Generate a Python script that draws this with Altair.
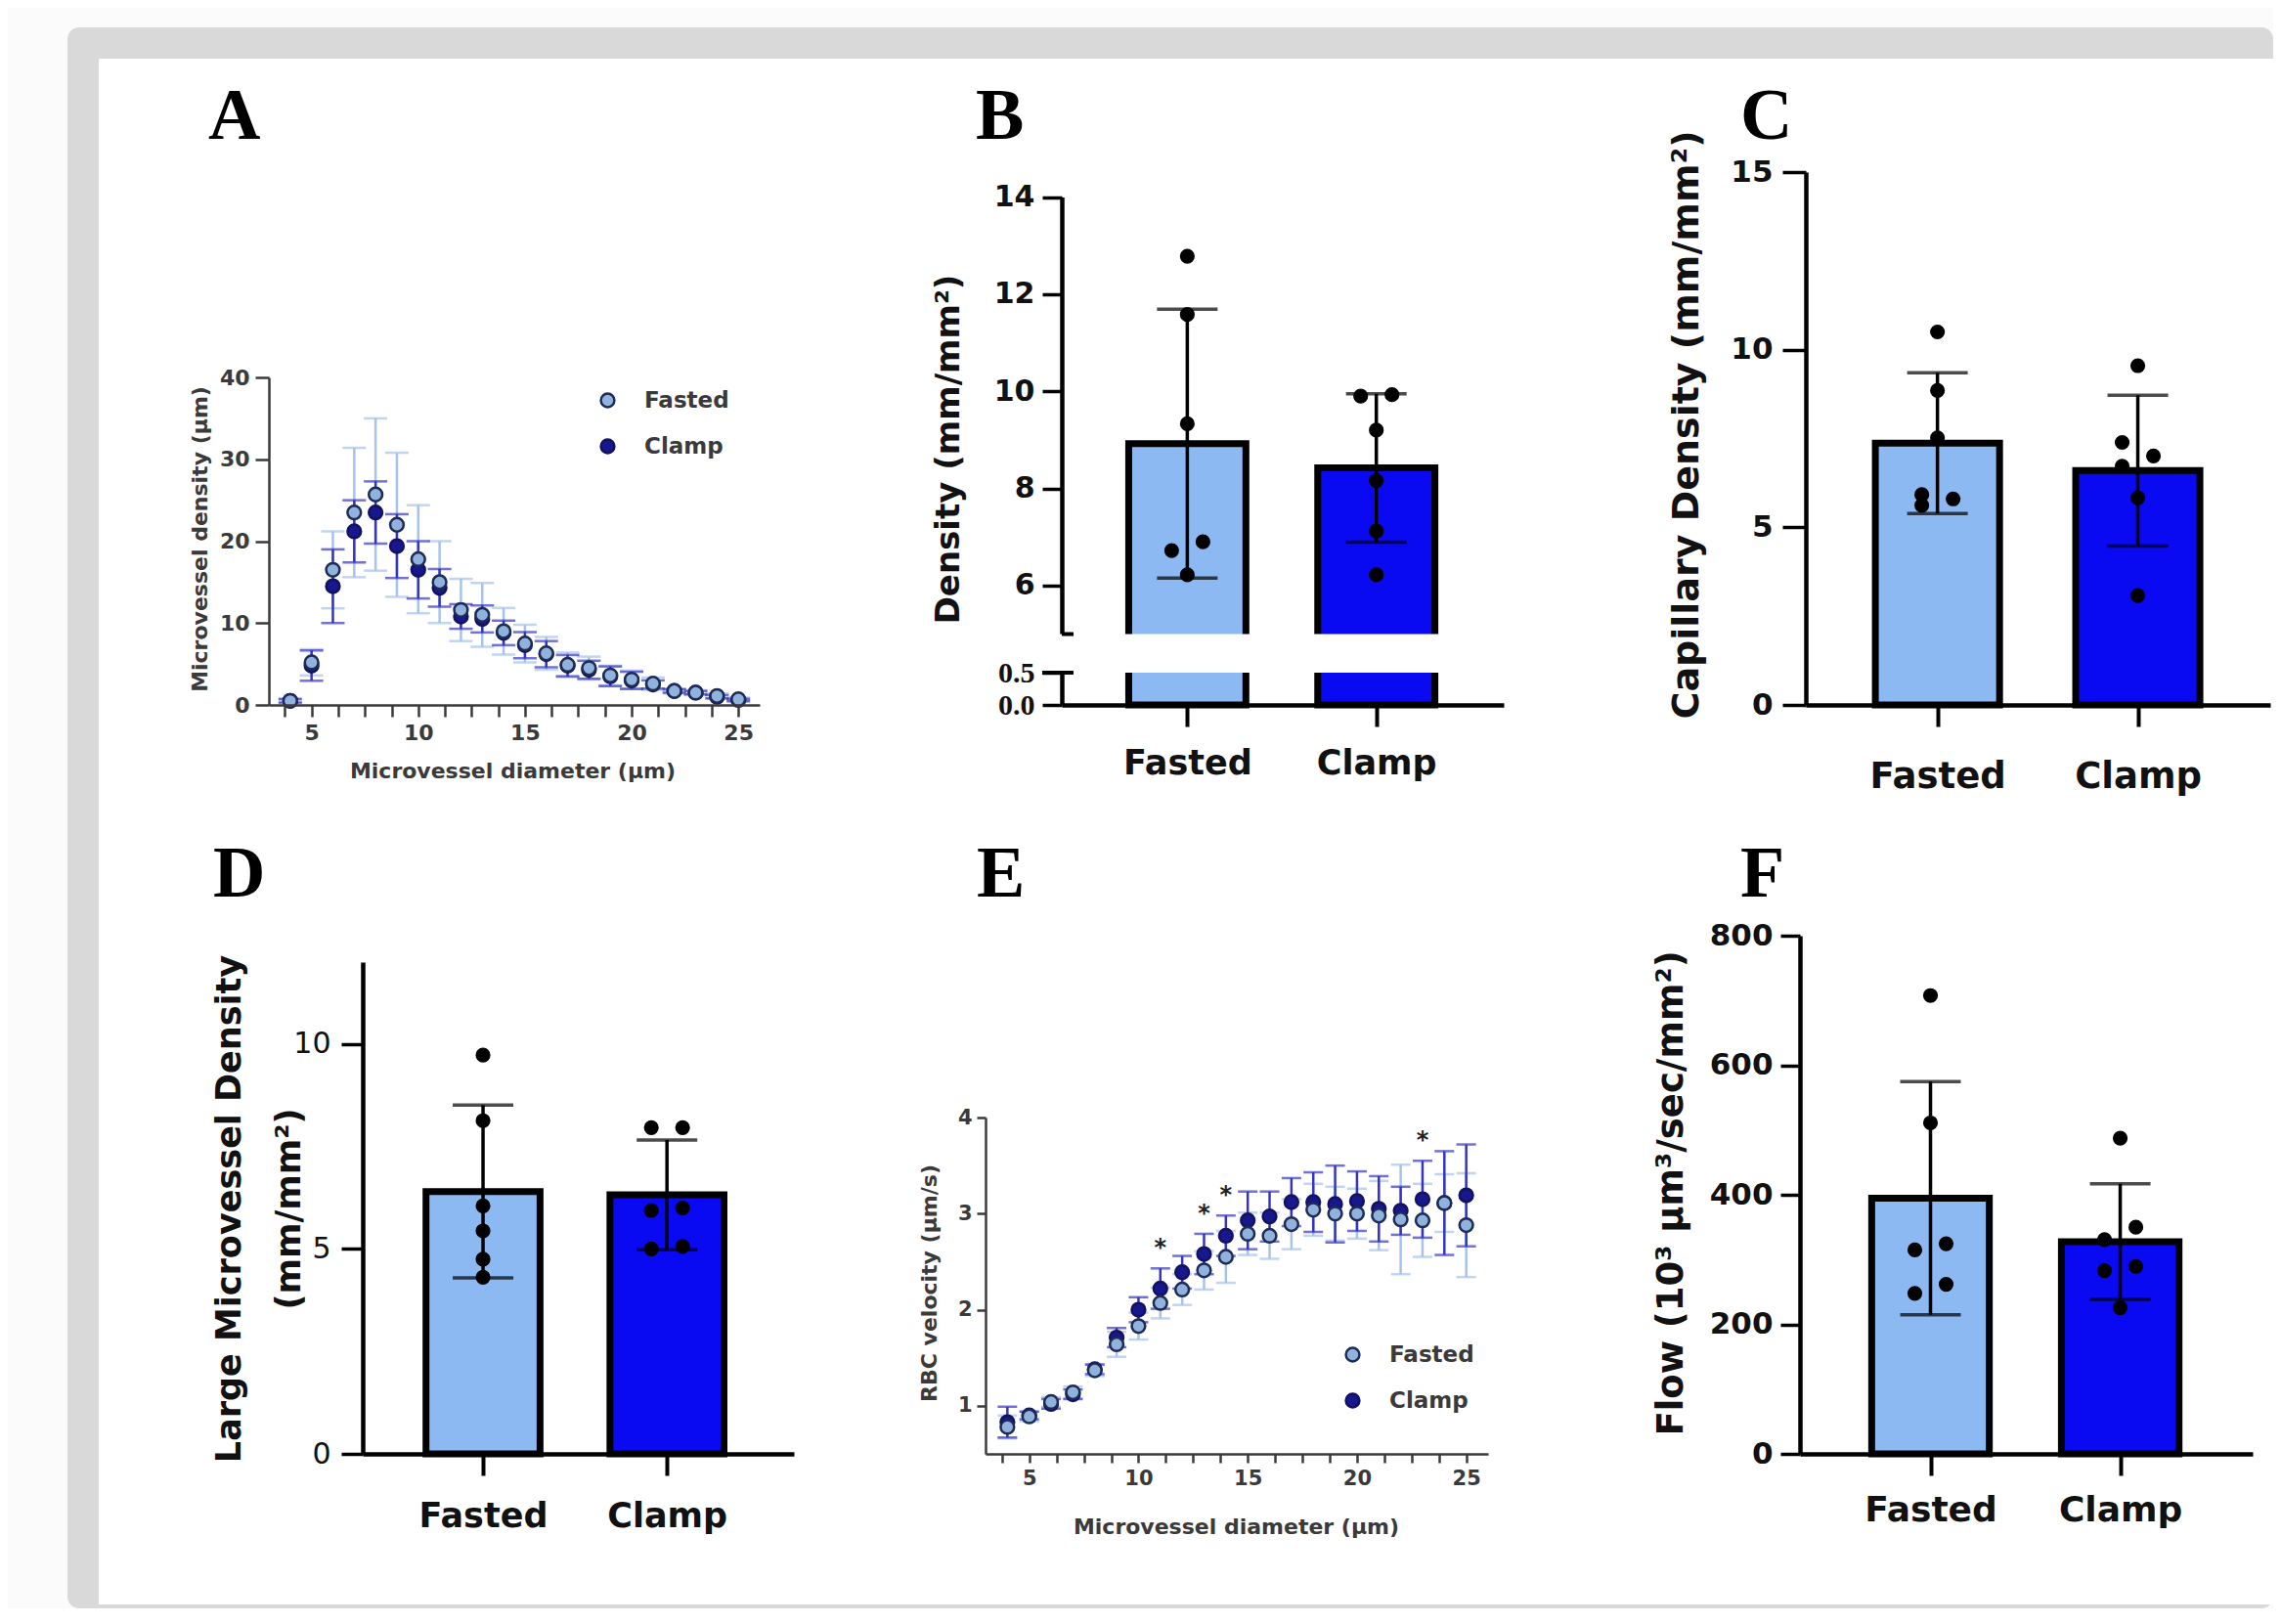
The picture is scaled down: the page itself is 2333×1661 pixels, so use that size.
import altair as alt
import pandas as pd

# ---------------- data ----------------
GROUPS = ["Fasted", "Clamp"]
DIAMETERS = list(range(4, 26))

# Panel A: microvessel density by diameter (mean, SD)
A_FASTED_MEAN = [0.5, 5.2, 16.5, 23.5, 25.7, 22.0, 17.8, 15.0, 11.6, 11.0, 9.0, 7.5, 6.3, 4.9, 4.5, 3.6, 3.1, 2.6, 1.7, 1.5, 1.1, 0.7]
A_FASTED_SD = [0.3, 1.6, 4.7, 7.9, 9.3, 8.8, 6.6, 5.0, 3.8, 3.9, 2.85, 2.3, 2.0, 1.5, 1.4, 1.2, 1.1, 0.75, 0.3, 0.3, 0.3, 0.2]
A_CLAMP_MEAN = [0.5, 4.8, 14.5, 21.2, 23.5, 19.4, 16.5, 14.3, 10.8, 10.5, 8.8, 7.3, 6.2, 4.8, 4.3, 3.5, 3.0, 2.5, 1.7, 1.5, 1.0, 0.6]
A_CLAMP_SD = [0.2, 1.85, 4.5, 3.8, 3.8, 3.9, 3.5, 2.3, 1.5, 1.65, 1.5, 1.6, 1.6, 1.3, 1.1, 1.2, 1.05, 0.5, 0.2, 0.2, 0.2, 0.15]

# Panel E: RBC velocity by diameter (mean, SD)
E_FASTED_MEAN = [0.78, 0.89, 1.04, 1.14, 1.37, 1.64, 1.83, 2.07, 2.21, 2.41, 2.55, 2.79, 2.77, 2.89, 3.04, 3.00, 3.00, 2.98, 2.94, 2.93, 3.11, 2.88]
E_FASTED_SD = [0.12, 0.05, 0.05, 0.06, 0.06, 0.13, 0.14, 0.16, 0.16, 0.20, 0.27, 0.22, 0.24, 0.26, 0.27, 0.28, 0.26, 0.36, 0.57, 0.38, 0.30, 0.54]
E_CLAMP_MEAN = [0.83, 0.90, 1.02, 1.12, 1.38, 1.71, 2.00, 2.22, 2.39, 2.58, 2.77, 2.93, 2.97, 3.12, 3.12, 3.10, 3.13, 3.05, 3.03, 3.15, 3.11, 3.19]
E_CLAMP_SD = [0.16, 0.04, 0.05, 0.05, 0.05, 0.10, 0.13, 0.21, 0.17, 0.21, 0.21, 0.30, 0.26, 0.25, 0.31, 0.40, 0.31, 0.34, 0.25, 0.40, 0.54, 0.53]
E_STARRED = [11, 13, 14, 23]

# Bar panels: individual animals
B_FASTED = [12.78, 11.58, 9.33, 6.90, 6.72, 6.22]
B_CLAMP = [9.90, 9.93, 9.20, 8.16, 7.12, 6.22]
C_FASTED = [10.50, 8.85, 7.52, 5.62, 5.92, 5.80]
C_CLAMP = [9.55, 7.39, 7.01, 6.72, 5.83, 3.08]
D_FASTED = [9.73, 8.13, 6.05, 5.44, 4.75, 4.31]
D_CLAMP = [7.96, 7.96, 5.94, 6.00, 5.00, 5.06]
F_FASTED = [707.6, 511.0, 314.9, 324.4, 247.8, 261.8]
F_CLAMP = [487.3, 350.0, 330.8, 289.4, 282.9, 225.5]

# ---------------- style ----------------
SANS = "DejaVu Sans"
SERIF = "Liberation Serif"
INK_S = "#3a3a3a"
INK_B = "#111111"
F_FILL, F_STROKE = "#8fb3dc", "#1e2b56"
C_FILL, C_STROKE = "#17178e", "#121260"
F_ERR, C_ERR = "#a7c2ec", "#3434c4"
BAR_F, BAR_C = "#8cb9f2", "#0a0af2"
X_TICKS = [3.75 + 1.25 * k for k in range(18)]


def one():
    return pd.DataFrame({"k": [0]})


def letter(ch, x, y):
    return alt.Chart(one()).mark_text(
        text=ch, font=SERIF, fontSize=74, fontWeight="bold",
        align="left", baseline="alphabetic", color="black",
    ).encode(x=alt.value(x), y=alt.value(y))


def swarm(values, ppy, ppx, diam_px=17.0, step_px=16.0):
    """Spread points that would overlap into alternating left/right columns."""
    order = sorted(range(len(values)), key=lambda i: values[i])
    offs = [0.0] * len(values)
    clusters, cur = [], [order[0]]
    for a, b in zip(order, order[1:]):
        if (values[b] - values[a]) * ppy < diam_px:
            cur.append(b)
        else:
            clusters.append(cur)
            cur = [b]
    clusters.append(cur)
    for cl in clusters:
        if len(cl) > 1:
            for k, i in enumerate(cl):
                offs[i] = (-step_px if k % 2 == 0 else step_px) / ppx
    return offs


def scatter_panel(f_mean, f_sd, c_mean, c_sd, *, view_w, view_h, x_px, y_domain, y_px, y_ticks,
                  y_title, y_title_xy, x_title_xy, legend_xy, ytick_len, xtick_len, label_size,
                  label_pad, cap_px, zindex, starred=None, pre=(), post=()):
    rows = []
    for g, means, sds in (("Clamp", c_mean, c_sd), ("Fasted", f_mean, f_sd)):
        for d, m, s in zip(DIAMETERS, means, sds):
            rows.append({"group": g, "d": d, "mean": m, "sd": s})
    df = pd.DataFrame(rows)
    common = dict(grid=False, domainColor=INK_S, domainWidth=2.5, tickColor=INK_S, tickWidth=2.5,
                  labelFont=SANS, labelFontSize=label_size, labelFontWeight="bold", labelColor=INK_S,
                  labelPadding=label_pad, labelOverlap=False, labelFlush=False,
                  titleFont=SANS, titleFontSize=22, titleFontWeight="bold", titleColor=INK_S,
                  titleAlign="center", titleBaseline="middle", titleLimit=1000, zindex=zindex)
    xs = alt.Scale(domain=[3, 26], range=[0, x_px], nice=False, zero=False)
    ys = alt.Scale(domain=y_domain, range=y_px, nice=False, zero=False)
    xax = alt.Axis(values=X_TICKS, labelExpr="datum.value % 5 === 0 ? format(datum.value, 'd') : ''",
                   title="Microvessel diameter (µm)", titleX=x_title_xy[0], titleY=x_title_xy[1],
                   tickSize=xtick_len, **common)
    yax = alt.Axis(values=y_ticks, title=y_title, titleX=y_title_xy[0], titleY=y_title_xy[1],
                   tickSize=ytick_len, **common)

    def X(f):
        return alt.X(f, type="quantitative", scale=xs, axis=xax)

    def Y(f):
        return alt.Y(f, type="quantitative", scale=ys, axis=yax)

    base = alt.Chart(df).transform_calculate(lo="datum.mean - datum.sd", hi="datum.mean + datum.sd")
    layers = list(pre)
    for g, col in (("Fasted", F_ERR), ("Clamp", C_ERR)):
        b = base.transform_filter(alt.datum.group == g)
        layers.append(b.mark_rule(color=col, strokeWidth=2.5).encode(x=X("d"), y=Y("lo"), y2="hi"))
        layers.append(b.mark_tick(color=col, orient="horizontal", size=cap_px, thickness=2.5)
                      .encode(x=X("d"), y=Y("hi")))
        layers.append(b.mark_tick(color=col, orient="horizontal", size=cap_px, thickness=2.5)
                      .encode(x=X("d"), y=Y("lo")))
    layers.append(
        base.mark_point(filled=True, size=190, strokeWidth=2.5, opacity=1).encode(
            x=X("d"), y=Y("mean"),
            fill=alt.Fill("group:N", scale=alt.Scale(domain=GROUPS, range=[F_FILL, C_FILL]),
                          legend=alt.Legend(orient="none", legendX=legend_xy[0], legendY=legend_xy[1],
                                            title=None, padding=0, labelFont=SANS, labelFontSize=23,
                                            labelFontWeight="bold", labelColor=INK_S, symbolType="circle",
                                            symbolSize=190, symbolStrokeWidth=2.5,
                                            symbolStrokeColor=F_STROKE, rowPadding=22, labelOffset=26)),
            stroke=alt.Stroke("group:N", scale=alt.Scale(domain=GROUPS, range=[F_STROKE, C_STROKE]),
                              legend=None),
        )
    )
    if starred:
        layers.append(
            base.transform_filter(alt.datum.group == "Clamp")
            .transform_filter(alt.FieldOneOfPredicate(field="d", oneOf=starred))
            .mark_text(text="*", font=SANS, fontSize=24, fontWeight="bold", color="#222",
                       baseline="middle", dy=-20)
            .encode(x=X("d"), y=Y("hi"))
        )
    layers += list(post)
    return alt.layer(*layers).properties(width=view_w, height=view_h)


def bar_panel(fasted, clamp, *, view_w, view_h, x_domain, x_px, y_domain, y_px, y_ticks,
              y_label_size, y_label_weight, y_tick_len, y_label_pad, y_title, y_title_xy,
              y_title_size, cat_size, cat_pad, post=(), mid=(), y_label_expr=None,
              y_label_font=SANS, y_title_lh=None):
    ppx = x_px / (x_domain[1] - x_domain[0])
    ppy = abs(y_px[-1] - y_px[-2]) / (y_domain[-1] - y_domain[-2])
    rows = []
    for gi, (g, vals) in enumerate(zip(GROUPS, (fasted, clamp))):
        offs = swarm(vals, ppy, ppx)
        for v, o in zip(vals, offs):
            rows.append({"group": g, "idx": gi, "value": v, "xpos": gi + o})
    df = pd.DataFrame(rows)
    xs = alt.Scale(domain=x_domain, range=[0, x_px], nice=False, zero=False)
    ys = alt.Scale(domain=y_domain, range=y_px, nice=False, zero=False)
    xax = alt.Axis(values=[0, 1], labelExpr="datum.value === 0 ? 'Fasted' : 'Clamp'", title=None,
                   grid=False, domainColor="black", domainWidth=4.5, tickColor="black", tickWidth=4,
                   tickSize=22, labelFont=SANS, labelFontSize=cat_size, labelFontWeight="bold",
                   labelColor=INK_B, labelPadding=cat_pad, labelOverlap=False, labelFlush=False)
    ykw = dict(values=y_ticks, title=y_title, titleX=y_title_xy[0], titleY=y_title_xy[1], grid=False,
               domainColor="black", domainWidth=4.5, tickColor="black", tickWidth=3.5,
               tickSize=y_tick_len, labelFont=y_label_font, labelFontSize=y_label_size,
               labelFontWeight=y_label_weight, labelColor=INK_B, labelPadding=y_label_pad,
               labelOverlap=False, labelFlush=False, titleFont=SANS, titleFontSize=y_title_size,
               titleFontWeight="bold", titleColor=INK_B, titleAlign="center",
               titleBaseline="middle", titleLimit=1000)
    if y_label_expr:
        ykw["labelExpr"] = y_label_expr
    if y_title_lh:
        ykw["titleLineHeight"] = y_title_lh
    yax = alt.Axis(**ykw)

    def X(f):
        return alt.X(f, type="quantitative", scale=xs, axis=xax)

    def Y(f):
        return alt.Y(f, type="quantitative", scale=ys, axis=yax)

    agg = (alt.Chart(df)
           .transform_aggregate(mean="mean(value)", sd="stdev(value)", groupby=["group", "idx"])
           .transform_calculate(lo="datum.mean - datum.sd", hi="datum.mean + datum.sd",
                                x0="datum.idx - 0.31", x1="datum.idx + 0.31", base="0"))
    bars = agg.mark_rect(stroke="black", strokeWidth=7).encode(
        x=X("x0"), x2="x1", y=Y("mean"), y2="base",
        fill=alt.Fill("group:N", scale=alt.Scale(domain=GROUPS, range=[BAR_F, BAR_C]), legend=None))
    stem = agg.mark_rule(color="black", strokeWidth=3.5).encode(x=X("idx"), y=Y("lo"), y2="hi")
    cap_hi = agg.mark_tick(orient="horizontal", size=62, thickness=3.5, color="black").encode(
        x=X("idx"), y=Y("hi"))
    cap_lo = agg.mark_tick(orient="horizontal", size=62, thickness=3.5, color="black").encode(
        x=X("idx"), y=Y("lo"))
    pts = alt.Chart(df).mark_circle(size=230, color="black", opacity=1).encode(
        x=X("xpos"), y=Y("value"))
    layers = [bars] + list(mid) + [stem, cap_hi, cap_lo, pts] + list(post)
    return alt.layer(*layers).properties(width=view_w, height=view_h)


def indep(ch):
    return ch.resolve_scale(fill="independent", stroke="independent").resolve_legend(
        fill="independent", stroke="independent")


ROW1_H, ROW2_H = 545, 530
ROW2_TOP_OFFSET = 781  # page y of row-2 plot tops minus row-1 plot tops

# outer frame (decoration), drawn beneath everything from panel A's layer stack
frame_gray = alt.Chart(one()).mark_rect(color="#d9d9d9", cornerRadius=12).encode(
    x=alt.value(-206), x2=alt.value(2050), y=alt.value(-148), y2=alt.value(1469))
frame_white = alt.Chart(one()).mark_rect(color="#ffffff").encode(
    x=alt.value(-174), x2=alt.value(2050), y=alt.value(-116), y2=alt.value(1465))

panel_a = scatter_panel(
    A_FASTED_MEAN, A_FASTED_SD, A_CLAMP_MEAN, A_CLAMP_SD,
    view_w=811, view_h=ROW1_H, x_px=502, y_domain=[0, 40], y_px=[ROW1_H, 210],
    y_ticks=[0, 10, 20, 30, 40], y_title="Microvessel density (µm)", y_title_xy=(-71, 375),
    x_title_xy=(249, 67), legend_xy=(335, 222), ytick_len=14, xtick_len=12, label_size=22,
    label_pad=6, cap_px=24, zindex=1,
    pre=(frame_gray, frame_white), post=(letter("A", -62, -34),))

# B: broken axis (piecewise scale 0-0.5 | 5-14)
b_gap = alt.Chart(one()).mark_rect(color="white").encode(
    x=alt.value(-6), x2=alt.value(452), y=alt.YDatum(5), y2=alt.Y2Datum(0.5))
b_break_hi = alt.Chart(one()).mark_rule(color="black", strokeWidth=4).encode(
    x=alt.value(0), x2=alt.value(12), y=alt.YDatum(5))
b_break_lo = alt.Chart(one()).mark_rule(color="black", strokeWidth=4).encode(
    x=alt.value(-20), x2=alt.value(12), y=alt.YDatum(0.5))

panel_b = bar_panel(
    B_FASTED, B_CLAMP, view_w=761, view_h=ROW1_H, x_domain=[-0.664, 1.674], x_px=452,
    y_domain=[0, 0.5, 5, 14], y_px=[ROW1_H, 512, 472.5, 25.5], y_ticks=[0, 0.5, 6, 8, 10, 12, 14],
    y_label_size=30, y_label_weight="bold", y_tick_len=20, y_label_pad=8,
    y_label_expr="datum.value < 1 ? format(datum.value, '.1f') : format(datum.value, 'd')",
    y_label_font={"condition": {"test": "datum.value < 1", "value": SERIF}, "value": SANS},
    y_title="Density (mm/mm²)", y_title_xy=(-116, 283), y_title_size=34,
    cat_size=35, cat_pad=20, mid=(b_gap, b_break_hi, b_break_lo), post=(letter("B", -88, -34),))

panel_c = bar_panel(
    C_FASTED, C_CLAMP, view_w=475, view_h=ROW1_H, x_domain=[-0.657, 1.661], x_px=475,
    y_domain=[0, 15], y_px=[ROW1_H, 0], y_ticks=[0, 5, 10, 15],
    y_label_size=31, y_label_weight="bold", y_tick_len=24, y_label_pad=10,
    y_title="Capillary Density (mm/mm²)", y_title_xy=(-122, 258), y_title_size=38,
    cat_size=37, cat_pad=33, post=(letter("C", -67, -34),))

spacer = alt.Chart(one()).mark_point(opacity=0).encode(
    x=alt.X("k:Q", axis=None), y=alt.Y("k:Q", axis=None)).properties(width=96, height=ROW2_H)

panel_d = bar_panel(
    D_FASTED, D_CLAMP, view_w=637, view_h=ROW2_H, x_domain=[-0.654, 1.69], x_px=441,
    y_domain=[0, 12], y_px=[ROW2_H, 27], y_ticks=[0, 5, 10],
    y_label_size=30, y_label_weight="normal", y_tick_len=22, y_label_pad=11,
    y_title=["Large Microvessel  Density", "(mm/mm²)"], y_title_xy=(-137, 279), y_title_size=35,
    y_title_lh=61, cat_size=35, cat_pad=24, post=(letter("D", -153, -40),))

panel_e = scatter_panel(
    E_FASTED_MEAN, E_FASTED_SD, E_CLAMP_MEAN, E_CLAMP_SD,
    view_w=833, view_h=ROW2_H, x_px=514, y_domain=[0.5, 4], y_px=[ROW2_H, 186],
    y_ticks=[1, 2, 3, 4], y_title="RBC velocity (µm/s)", y_title_xy=(-58, 355),
    x_title_xy=(256, 74), legend_xy=(364, 417), ytick_len=9, xtick_len=9, label_size=21,
    label_pad=5, cap_px=20, zindex=0, starred=E_STARRED, post=(letter("E", -9, -40),))

panel_f = bar_panel(
    F_FASTED, F_CLAMP, view_w=463, view_h=ROW2_H, x_domain=[-0.688, 1.698], x_px=463,
    y_domain=[0, 800], y_px=[ROW2_H, 0], y_ticks=[0, 200, 400, 600, 800],
    y_label_size=31, y_label_weight="bold", y_tick_len=20, y_label_pad=8,
    y_title="Flow (10³ µm³/sec/mm²)", y_title_xy=(-132, 263), y_title_size=37,
    cat_size=36, cat_pad=18, post=(letter("F", -61, -40),))

row1 = indep(alt.hconcat(panel_a, panel_b, panel_c, spacing=0, bounds="flush"))
row2 = indep(alt.hconcat(spacer, panel_d, panel_e, panel_f, spacing=0, bounds="flush"))

# nested rows have no intrinsic height under "flush" bounds, so the spacing is the full row offset
chart = indep(alt.vconcat(row1, row2, spacing=ROW2_TOP_OFFSET, bounds="flush")).properties(
    padding={"left": 61, "top": 20, "right": 0, "bottom": 0},
    background="#fbfbfb",
).configure_view(stroke=None)

chart.save("out.html", embed_options={"renderer": "svg", "actions": False})
